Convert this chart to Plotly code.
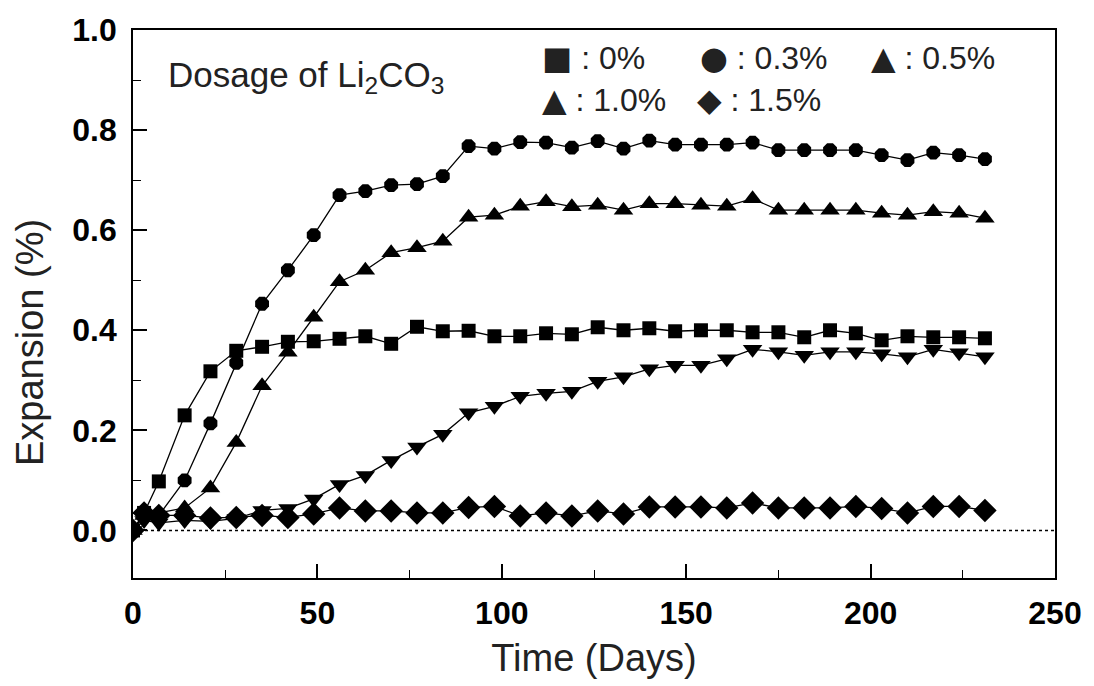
import plotly.graph_objects as go

days = [0, 3, 7, 14, 21, 28, 35, 42, 49, 56, 63, 70, 77, 84, 91, 98, 105, 112, 119,
        126, 133, 140, 147, 154, 161, 168, 175, 182, 189, 196, 203, 210, 217, 224, 231]

exp_0 = [0.0, 0.035, 0.098, 0.23, 0.318, 0.359, 0.367, 0.377, 0.378, 0.383, 0.388,
         0.373, 0.407, 0.398, 0.399, 0.388, 0.388, 0.394, 0.392, 0.406, 0.400, 0.404,
         0.398, 0.400, 0.400, 0.396, 0.396, 0.386, 0.400, 0.394, 0.380, 0.388, 0.386,
         0.386, 0.384]

exp_03 = [0.0, 0.035, 0.03, 0.10, 0.214, 0.335, 0.453, 0.52, 0.59, 0.67, 0.678,
          0.69, 0.692, 0.708, 0.768, 0.763, 0.776, 0.775, 0.765, 0.778, 0.763, 0.779,
          0.771, 0.771, 0.771, 0.775, 0.760, 0.760, 0.760, 0.760, 0.750, 0.740, 0.755,
          0.750, 0.742]

exp_05 = [0.0, 0.03, 0.035, 0.045, 0.085, 0.176, 0.289, 0.356, 0.426, 0.497, 0.52,
          0.555, 0.565, 0.578, 0.626, 0.630, 0.648, 0.657, 0.647, 0.650, 0.640, 0.653,
          0.653, 0.650, 0.648, 0.663, 0.640, 0.640, 0.640, 0.640, 0.634, 0.630, 0.637,
          0.634, 0.624]

exp_10 = [0.0, 0.02, 0.015, 0.02, 0.018, 0.024, 0.04, 0.044, 0.063, 0.092, 0.11,
          0.14, 0.167, 0.192, 0.235, 0.248, 0.268, 0.274, 0.278, 0.298, 0.307, 0.323,
          0.330, 0.330, 0.343, 0.362, 0.357, 0.350, 0.357, 0.357, 0.353, 0.347, 0.362,
          0.355, 0.347]

exp_15 = [0.0, 0.035, 0.03, 0.03, 0.025, 0.026, 0.03, 0.026, 0.033, 0.045, 0.039,
          0.039, 0.035, 0.035, 0.046, 0.048, 0.029, 0.035, 0.029, 0.039, 0.033, 0.047,
          0.047, 0.047, 0.045, 0.055, 0.045, 0.045, 0.045, 0.048, 0.044, 0.035, 0.048,
          0.048, 0.040]

series = [
    ("0%", exp_0, "square", 14),
    ("0.3%", exp_03, "octagon", 15),
    ("0.5%", exp_05, "triangle-up", 17),
    ("1.0%", exp_10, "triangle-down", 17),
    ("1.5%", exp_15, "diamond", 18),
]

legend_glyphs = [["\u25A0", "\u25CF", "\u25B2"], ["\u25B2", "\u25C6"]]
legend_labels = [[": 0%", ": 0.3%", ": 0.5%"], [": 1.0%", ": 1.5%"]]

x_ticks = [0, 50, 100, 150, 200, 250]
y_ticks = [0.0, 0.2, 0.4, 0.6, 0.8, 1.0]

fig = go.Figure()

for name, vals, sym, sz in series:
    fig.add_trace(go.Scatter(
        x=days, y=vals, mode="lines+markers", name=name,
        line=dict(color="black", width=1.3),
        marker=dict(symbol=sym, size=sz, color="black", line=dict(width=0)),
        showlegend=False,
    ))

fig.add_shape(type="line", xref="paper", yref="y", x0=0, x1=1, y0=0, y1=0,
              line=dict(color="black", width=1.5, dash="dot"))

fig.add_annotation(xref="paper", yref="paper", x=0.036, y=0.914, xanchor="left",
                   yanchor="middle", showarrow=False,
                   text="Dosage of Li<sub>2</sub>CO<sub>3</sub>",
                   font=dict(family="Liberation Sans", size=35, color="#222"))

leg_x = [[0.441, 0.613, 0.798], [0.441, 0.61]]
leg_y = [0.948, 0.873]
for r in range(len(legend_glyphs)):
    for c in range(len(legend_glyphs[r])):
        txt = ('<span style="font-family:DejaVu Sans">' + legend_glyphs[r][c]
               + '</span> ' + legend_labels[r][c])
        fig.add_annotation(xref="paper", yref="paper", x=leg_x[r][c], y=leg_y[r],
                           xanchor="left", yanchor="middle", showarrow=False,
                           text=txt,
                           font=dict(family="Liberation Sans", size=32, color="#222"))

# y-axis title placed as an annotation (sits slightly below the axis centre)
fig.add_annotation(xref="paper", yref="paper", x=-0.111, y=0.43,
                   xanchor="center", yanchor="middle", showarrow=False,
                   textangle=-90, text="Expansion (%)",
                   font=dict(family="Liberation Sans", size=38, color="#222"))

fig.update_xaxes(
    range=[0, 250], tickvals=x_ticks, ticks="inside", ticklen=14, tickwidth=1.5,
    minor=dict(dtick=25, ticks="inside", ticklen=8, tickwidth=1.3, tickcolor="black"),
    showline=True, linecolor="black", linewidth=1.8, mirror=True,
    showgrid=False, zeroline=False, tickcolor="black",
    tickfont=dict(family="Liberation Sans", size=32, color="black", weight="bold"),
    title=dict(text="Time (Days)", standoff=14,
               font=dict(family="Liberation Sans", size=38, color="#222")),
    ticklabelstandoff=6,
)
fig.update_yaxes(
    range=[-0.095, 1.0], tickvals=y_ticks, tickformat=".1f", ticks="inside",
    ticklen=14, tickwidth=1.5,
    minor=dict(dtick=0.1, tick0=0, ticks="inside", ticklen=8, tickwidth=1.3,
               tickcolor="black"),
    showline=True, linecolor="black", linewidth=1.8, mirror=True,
    showgrid=False, zeroline=False, tickcolor="black",
    tickfont=dict(family="Liberation Sans", size=32, color="black", weight="bold"),
    ticklabelstandoff=8,
)

fig.update_layout(
    width=1094, height=686,
    margin=dict(l=133, r=31, t=20, b=108),
    plot_bgcolor="white", paper_bgcolor="white",
)

fig.write_html("out.html")
